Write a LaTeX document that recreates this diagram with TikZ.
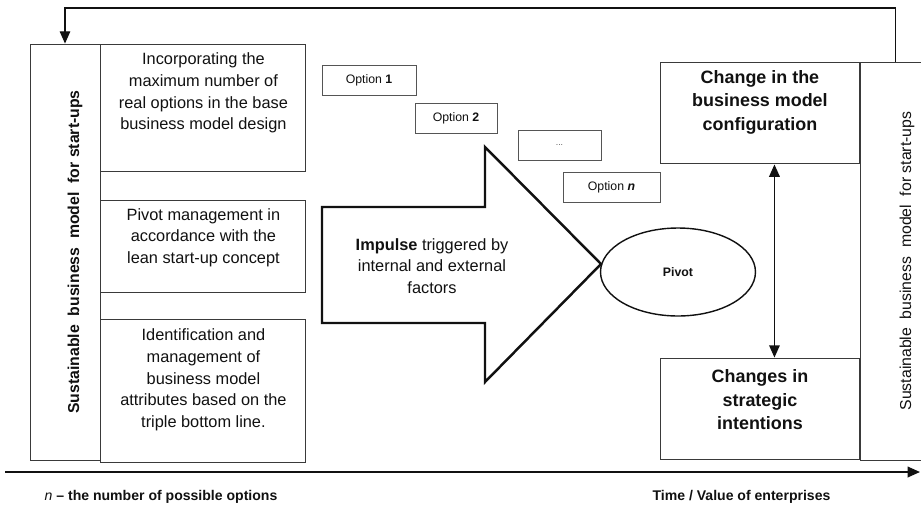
\documentclass[tikz,border=0pt]{standalone}
\usepackage{fontspec}
\setmainfont{Liberation Sans}
\usepackage{xcolor}
\usepackage{tikz}
\usetikzlibrary{arrows.meta,positioning,shapes.geometric,calc}
\definecolor{bmInk}{HTML}{111111}
\definecolor{bmLine}{HTML}{3A3A3A}
\definecolor{bmGray}{HTML}{555555}
\tikzset{
  % Pillar frame (left and right)
  pillar/.style={rectangle,draw=bmLine,line width=0.55pt,
    minimum width=1.4cm,inner sep=0pt},
  % Pillar caption (rotated)
  pillartxt/.style={rotate=90,font=\fontsize{9}{11}\selectfont,text=bmInk},
  % Attribute box (left column)
  abox/.style={rectangle,draw=bmLine,line width=0.55pt,
    minimum width=4.1cm,inner sep=0pt},
  % Text of an attribute box
  atxt/.style={align=center,
    font=\fontsize{9.3}{12.3}\selectfont,text=bmInk},
  % Option box
  obox/.style={rectangle,draw=bmGray,line width=0.5pt,
    minimum height=0.6cm,inner sep=0pt,
    font=\fontsize{7}{8}\selectfont,text=bmInk},
  % Result box (right column)
  rbox/.style={rectangle,draw=bmLine,line width=0.55pt,
    minimum width=3.98cm,minimum height=2.03cm,inner sep=0pt},
  % Text of a result box
  rtxt/.style={align=center,
    font=\fontsize{10.2}{13.3}\selectfont\bfseries,text=bmInk},
  % Arrows
  arr/.style={-{Triangle[width=6pt,length=7pt]},line width=0.9pt,color=bmInk},
  darr/.style={{Triangle[width=6pt,length=7pt]}-{Triangle[width=6pt,length=7pt]},
    line width=0.9pt,color=bmInk},
  lbl/.style={font=\fontsize{8}{10}\selectfont\bfseries,text=bmInk},
}

\begin{document}
\begin{tikzpicture}[x=0.02cm,y=-0.02cm,node distance=0.3cm]
  \clip (0,0) rectangle (921,508);
  \fill[white] (0,0) rectangle (921,508);

  %% --- LEFT PILLAR ---
  \node[pillar,minimum height=8.34cm] (sbmL) at (65,252.5) {};
  \node[pillartxt,font=\fontsize{9}{11}\selectfont\bfseries] (sbmLtxt) at (75,252)
    {Sustainable\ \ business\ \ model\ \ for start-ups};

  %% --- ATTRIBUTE BOXES ---
  \node[abox,minimum height=2.54cm,anchor=north west] (incl) at (sbmL.north east) {};
  \node[abox,minimum height=1.84cm,below=0.58cm of incl] (pivm) {};
  \node[abox,minimum height=2.86cm,below=0.52cm of pivm] (tbl) {};

  \node[atxt] (inclT) at ([yshift=0.29cm]incl.center)
    {Incorporating the\\maximum number of\\real options in the base\\business model design};
  \node[atxt] (pivmT) at ([yshift=0.19cm]pivm.center)
    {Pivot management in\\accordance with the\\lean start-up concept};
  \node[atxt] (tblT) at ([yshift=0.23cm]tbl.center)
    {Identification and\\management of\\business model\\attributes based on the\\triple bottom line.};

  %% --- OPTIONS ---
  \node[obox,minimum width=1.88cm] (opt1) at (369,80.5) {Option \textbf{1}};
  \node[obox,minimum width=1.64cm] (opt2) at (456,118) {Option \textbf{2}};
  \node[obox,minimum width=1.66cm,font=\fontsize{5}{6}\selectfont,text=bmGray] (optd) at (559.5,145) {...};
  \node[obox,minimum width=1.94cm] (optn) at (611.5,187.5) {Option \textbf{\textit{n}}};

  %% --- IMPULSE ARROW ---
  \draw[line width=1.4pt,color=bmInk] (322,207) -- (485,207) -- (485,147) -- (601,264)
    -- (485,382) -- (485,323) -- (322,323) -- cycle;
  \node[atxt] (imp) at (432,266) {\textbf{Impulse} triggered by\\internal and external\\factors};

  %% --- PIVOT ---
  \node[ellipse,draw=bmInk,line width=0.8pt,minimum width=3.1cm,minimum height=1.76cm,
    font=\fontsize{7}{8}\selectfont\bfseries,text=bmInk] (pivot) at (678,272) {Pivot};

  %% --- RESULT BOXES ---
  \node[rbox,anchor=north west] (chg) at (660,62) {};
  \node[rbox,anchor=south west] (strat) at (660,460) {};
  \node[rtxt] (chgT) at ([yshift=0.22cm]chg.center) {Change in the\\business model\\configuration};
  \node[rtxt] (stratT) at ([yshift=0.18cm]strat.center) {Changes in\\strategic\\intentions};

  %% --- RIGHT PILLAR ---
  \node[pillar,minimum height=7.96cm,anchor=north west] (sbmR) at (chg.north east) {};
  \node[pillartxt] (sbmRtxt) at (907,261) {Sustainable\ \ business\ \ model\ \ for start-ups};

  % Pivot outcomes
  \draw[darr] ([xshift=0.29cm]chg.south) -- ([xshift=0.29cm]strat.north);

  % Feedback to the start
  \draw[arr,line width=0.8pt] (sbmR.north) -- ++(0,-54) -| (sbmL.north);

  %% --- TIME AXIS ---
  \coordinate (t0) at (5,472);
  \coordinate (t1) at (920,472);
  \draw[arr,line width=1pt] (t0) -- (t1);

  \node[lbl] (nnote) at (161,497) {{\mdseries\itshape n} -- the number of possible options};
  \node[lbl] (tval) at (741.5,497) {Time / Value of enterprises};
\end{tikzpicture}
\end{document}
